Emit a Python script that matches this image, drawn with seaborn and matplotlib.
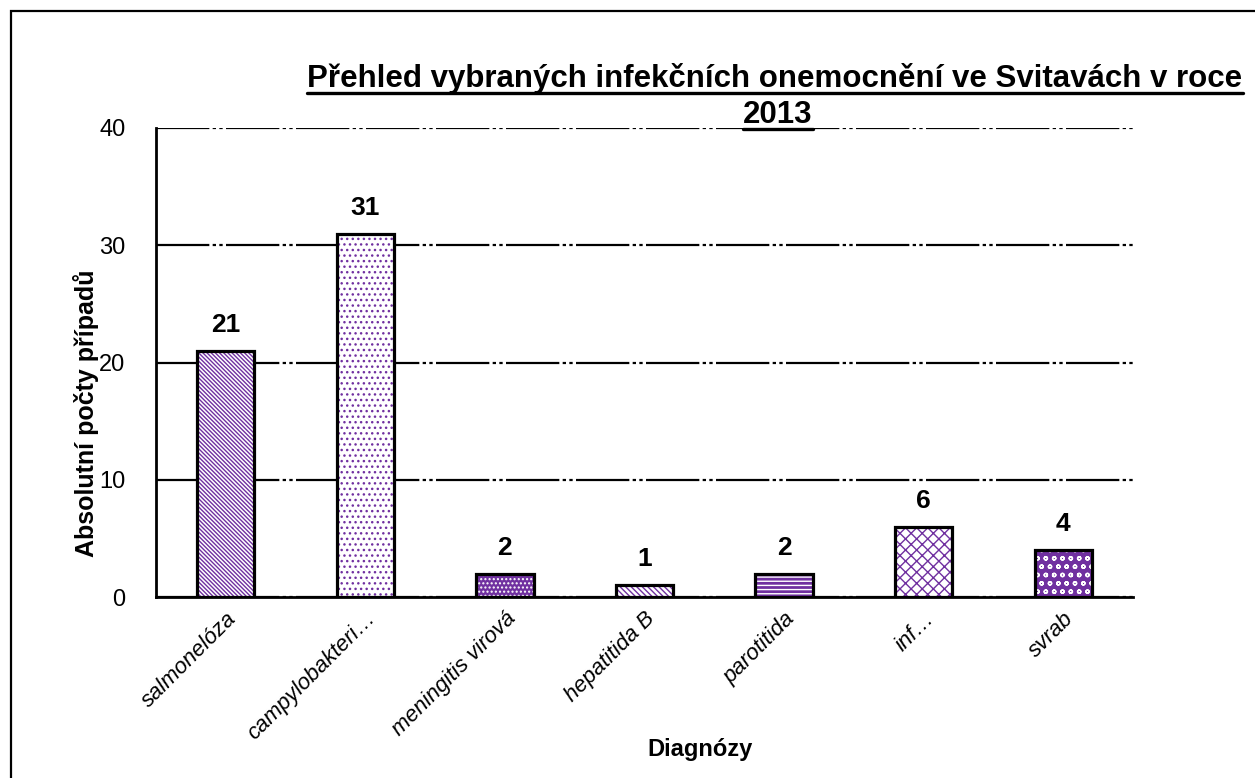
import matplotlib
matplotlib.use("Agg")
import matplotlib.pyplot as plt
import seaborn as sns
from matplotlib.lines import Line2D
from matplotlib.patches import Rectangle

DIAGNOZY = ["salmonelóza", "campylobakteri…", "meningitis virová", "hepatitida B",
            "parotitida", "inf…", "svrab"]
POCTY = [21, 31, 2, 1, 2, 6, 4]
Y_TICKS = [0, 10, 20, 30, 40]
TITLE_1 = "Přehled vybraných infekčních onemocnění ve Svitavách v roce"
TITLE_2 = "2013"

PURPLE = "#7030A0"
# (facecolor, hatch colour, hatch) pro jednotlivé sloupce
STYLY = [
    ("white", PURPLE, "\\" * 8),
    ("white", PURPLE, "..."),
    (PURPLE, "white", "...."),
    ("white", PURPLE, "\\" * 6),
    (PURPLE, "white", "----"),
    ("white", PURPLE, "xxx"),
    (PURPLE, "white", "oo"),
]

sns.set_theme(style="white")
plt.rcParams["font.family"] = ["Liberation Sans", "DejaVu Sans"]
plt.rcParams["text.color"] = "black"
plt.rcParams["xtick.color"] = "black"
plt.rcParams["ytick.color"] = "black"
plt.rcParams["axes.labelcolor"] = "black"
plt.rcParams["hatch.linewidth"] = 1.0

W, H = 1255, 778
fig = plt.figure(figsize=(W / 100, H / 100), dpi=100)
ax = fig.add_axes([156 / W, 1 - 597 / H, (1133 - 156) / W, (597 - 128) / H])

sns.barplot(x=DIAGNOZY, y=POCTY, ax=ax, width=0.41, color="white", errorbar=None)

for patch, (fc, hc, hatch) in zip(ax.patches, STYLY):
    patch.set_facecolor(fc)
    patch.set_edgecolor(hc)
    patch.set_hatch(hatch)
    patch.set_linewidth(0)
    ax.add_patch(Rectangle(patch.get_xy(), patch.get_width(), patch.get_height(),
                           fill=False, edgecolor="black", linewidth=2.3, zorder=3))

ax.bar_label(ax.containers[0], labels=[str(v) for v in POCTY], padding=10,
             fontsize=19, fontweight="bold", color="black")

ax.set_ylim(0, 40)
ax.set_yticks(Y_TICKS)
ax.set_xlim(-0.5, len(DIAGNOZY) - 0.5)
ax.yaxis.grid(True, color="black", linewidth=1.6,
              linestyle=(0, (24, 1.5, 1.5, 1.5, 1.5, 1.5)))
ax.set_axisbelow(True)
for s in ["top", "right"]:
    ax.spines[s].set_visible(False)
for s in ["left", "bottom"]:
    ax.spines[s].set_color("black")
    ax.spines[s].set_linewidth(2)
ax.tick_params(axis="y", length=0, pad=22, labelsize=17)
ax.tick_params(axis="x", length=0, pad=8)
plt.setp(ax.get_xticklabels(), rotation=45, ha="right", rotation_mode="anchor",
         fontsize=16, fontstyle="italic")

ax.set_ylabel("Absolutní počty případů", fontsize=18, fontweight="bold")
ax.yaxis.set_label_coords(-0.058, 0.392)
ax.set_xlabel("Diagnózy", fontsize=17, fontweight="bold")
ax.xaxis.set_label_coords(0.557, -0.3)

# rámeček grafu
fig.add_artist(Rectangle((11 / W, -0.1), 1.2, 1.1 - 11 / H, transform=fig.transFigure,
                         fill=False, edgecolor="black", linewidth=1.6))

# nadpis s podtržením
t1 = fig.text(775 / W, 1 - 87 / H, TITLE_1, ha="center", va="baseline",
              fontsize=22.5, fontweight="bold")
t2 = fig.text(778 / W, 1 - 123 / H, TITLE_2, ha="center", va="baseline",
              fontsize=22.5, fontweight="bold")
fig.canvas.draw()
renderer = fig.canvas.get_renderer()
for t, y_px in [(t1, 93), (t2, 129)]:
    bb = t.get_window_extent(renderer)
    yf = 1 - y_px / H
    fig.add_artist(Line2D([bb.x0 / W, bb.x1 / W], [yf, yf], transform=fig.transFigure,
                          color="black", linewidth=2.4))

fig.savefig("out.png", dpi=100)
